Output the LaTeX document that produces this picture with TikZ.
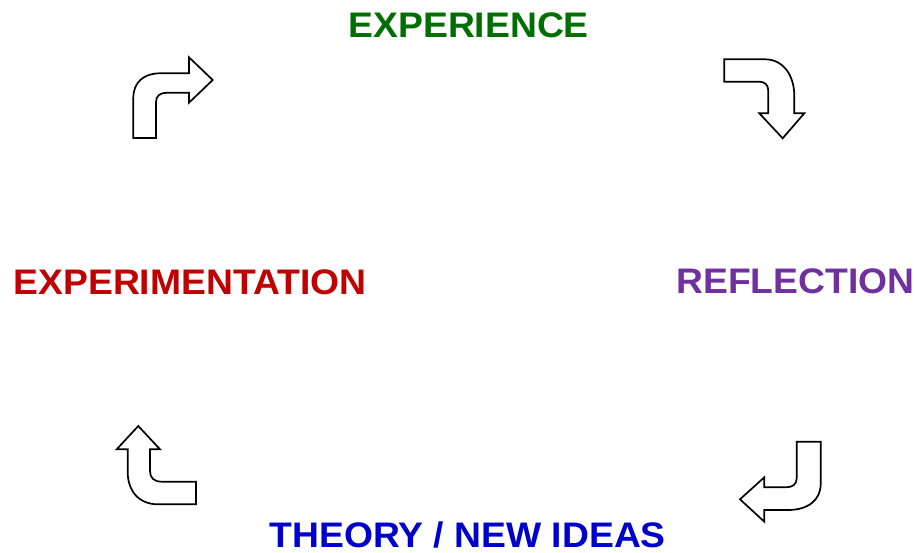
\documentclass[tikz,border=0pt]{standalone}
\usepackage{fontspec}
\setmainfont{Liberation Sans}
\definecolor{expgreen}{RGB}{0,110,0}
\definecolor{refpurple}{RGB}{112,48,160}
\definecolor{theoblue}{RGB}{0,0,204}
\definecolor{expred}{RGB}{192,0,0}
% wide bold caption text
\newcommand{\stagetext}[1]{\scalebox{1.05}[1]{#1}}
\begin{document}
\begin{tikzpicture}[x=1pt,y=-1pt,
  stage/.style={font=\fontsize{35.5}{40}\selectfont\bfseries, inner sep=0pt, anchor=base},
  bentarrow/.style={draw=black, fill=white, line width=1.7pt, line join=miter}]
\useasboundingbox (0,0) rectangle (917,553);

% stage labels
\node[stage, text=expgreen]  (experience) at (468.7,37.3) {\stagetext{EXPERIENCE}};
\node[stage, text=refpurple] (reflection) at (795.3,293.3) {\stagetext{REFLECTION}};
\node[stage, text=theoblue]  (theory)     at (467.7,547.3) {\stagetext{THEORY / NEW IDEAS}};
\node[stage, text=expred]    (experiment) at (190,294) {\stagetext{EXPERIMENTATION}};

% top-left: up then right
\draw[bentarrow] (133.3,138) -- (133.3,98)
  .. controls (133.3,82) and (144,73.3) .. (160,73.3)
  -- (189,73.3) -- (189,57.3) -- (212.7,80) -- (189,102.7) -- (189,92.7)
  -- (167,92.7) .. controls (160,92.7) and (156,96) .. (156,102)
  -- (156,138) -- cycle;

% top-right: right then down
\draw[bentarrow] (724.3,59.3) -- (765,59.3)
  .. controls (783,59.3) and (794.3,75) .. (794.3,96)
  -- (794.3,113.3) -- (804.3,113.3) -- (782.7,138.3) -- (759.3,113.3)
  -- (768.3,113.3) -- (768.3,91) .. controls (768.3,85) and (765,81.7) .. (759,81.7)
  -- (724.3,81.7) -- cycle;

% bottom-right: down then left
\draw[bentarrow] (796.7,441.7) -- (820.7,441.7) -- (820.7,484)
  .. controls (820.7,500) and (808,510) .. (788,510)
  -- (764.3,510) -- (764.3,521.7) -- (740,499.3) -- (764.3,477.3)
  -- (764.3,487.3) -- (786,487.3) .. controls (793,487.3) and (796.7,484) .. (796.7,478)
  -- cycle;

% bottom-left: left then up
\draw[bentarrow] (138.3,426) -- (160,449.3) -- (150,449.3) -- (150,471)
  .. controls (150,478) and (154,481.7) .. (162,481.7)
  -- (196,481.7) -- (196,504.3) -- (158,504.3)
  .. controls (138,504.3) and (127.7,490) .. (127.7,472)
  -- (127.7,449.3) -- (116.7,449.3) -- cycle;
\end{tikzpicture}
\end{document}
